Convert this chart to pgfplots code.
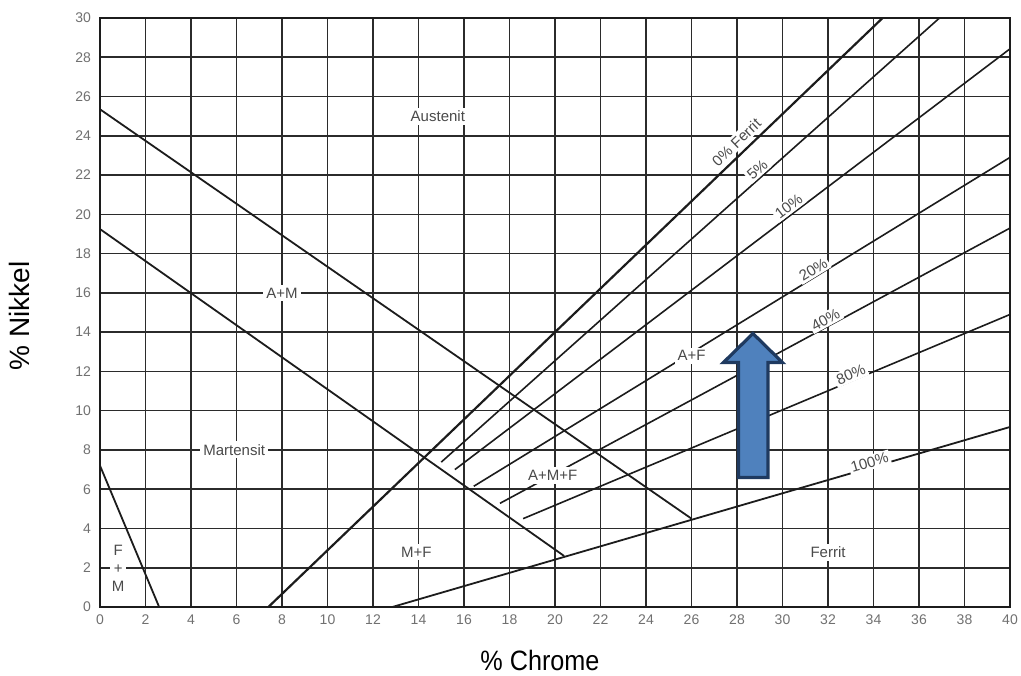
\documentclass[border=0pt]{standalone}
\usepackage{fontspec}
\setmainfont{Liberation Sans}
\usepackage{graphicx}
\usepackage{pgfplots}
\pgfplotsset{compat=1.18}

\definecolor{gridc}{HTML}{2B2B2B}
\definecolor{linec}{HTML}{1C1C1C}
\definecolor{tickc}{HTML}{707070}
\definecolor{txtc}{HTML}{4A4A4A}
\definecolor{arrowfill}{HTML}{4F81BD}
\definecolor{arrowdraw}{HTML}{1F3A60}

\begin{document}
\begin{tikzpicture}[
  region/.style={font=\fontsize{7.5}{9}\selectfont, text=txtc, fill=white, inner sep=1.5pt},
  fe/.style={sloped, font=\fontsize{7.5}{9}\selectfont, text=txtc, fill=white, inner sep=1pt},
]
\begin{axis}[
  scale only axis, width=455pt, height=294.5pt,
  xmin=0, xmax=40, ymin=0, ymax=30,
  xtick={0,2,...,40}, ytick={0,2,...,30},
  grid=major,
  major grid style={gridc, line width=0.8pt},
  axis line style={linec, line width=1pt},
  major tick length=0pt,
  tick label style={font=\fontsize{7}{8}\selectfont, text=tickc},
  /pgf/number format/assume math mode=true,
  xticklabel style={anchor=center, yshift=-6.5pt},
  yticklabel style={xshift=-1pt},
  xlabel={\scalebox{0.9}[1]{\% Chrome}},
  ylabel={\% Nikkel},
  label style={font=\fontsize{14}{16}\selectfont, text=black},
  xlabel style={at={(axis description cs:0.4835,-0.09)}, anchor=center},
  ylabel style={at={(axis description cs:-0.088,0.494)}, anchor=center},
]

% F + M boundary
\addplot[linec, line width=0.9pt] coordinates {(0,7.2) (2.6,0)};

% upper and lower A+M boundaries
\addplot[linec, line width=0.9pt] coordinates {(0,25.35) (26,4.5)};
\addplot[linec, line width=0.9pt] coordinates {(0,19.25) (20.4,2.6)};

% iso-ferrite lines
\addplot[linec, line width=1.1pt] coordinates {(7.4,0) (34.4,30)}
  node[fe, pos=0.775, above=1.5pt] {0\% Ferrit};
\addplot[linec, line width=0.8pt] coordinates {(15.0,7.38) (36.9,30)}
  node[fe, pos=0.645, above=0pt] {5\%};
\addplot[linec, line width=0.8pt] coordinates {(15.6,7.0) (40,28.43)}
  node[fe, pos=0.61, above=0pt] {10\%};
\addplot[linec, line width=0.8pt] coordinates {(16.43,6.15) (40,22.9)}
  node[fe, pos=0.64, above=-0.5pt] {20\%};
\addplot[linec, line width=0.8pt] coordinates {(17.58,5.28) (40,19.3)}
  node[fe, pos=0.645, above=-0.5pt] {40\%};
\addplot[linec, line width=0.8pt] coordinates {(18.6,4.5) (40,14.9)}
  node[fe, pos=0.678, above=-1pt] {80\%};
\addplot[linec, line width=0.9pt] coordinates {(12.85,0) (40,9.17)}
  node[fe, pos=0.775, above=-1.5pt] {100\%};

% phase regions
\node[region] at (axis cs:14.85,25) {Austenit};
\node[region] at (axis cs:8,16) {A+M};
\node[region] at (axis cs:5.9,8) {Martensit};
\node[region, align=center, inner sep=1pt] at (axis cs:0.8,1.95) {F\\+\\M};
\node[region] at (axis cs:13.9,2.8) {M+F};
\node[region] at (axis cs:32,2.8) {Ferrit};
\node[region] at (axis cs:26,12.8) {A+F};
\node[region] at (axis cs:19.9,6.7) {A+M+F};

% block arrow
\addplot[fill=arrowfill, draw=arrowdraw, line width=1.6pt, line join=miter]
  coordinates {(28.07,6.6) (29.36,6.6) (29.36,12.45) (30.0,12.45) (28.7,13.93)
               (27.4,12.45) (28.07,12.45)} -- cycle;
\end{axis}
\pgfresetboundingbox
\path[use as bounding box] (-50pt,-34pt) rectangle (460.5pt,303.5pt);
\end{tikzpicture}
\end{document}
